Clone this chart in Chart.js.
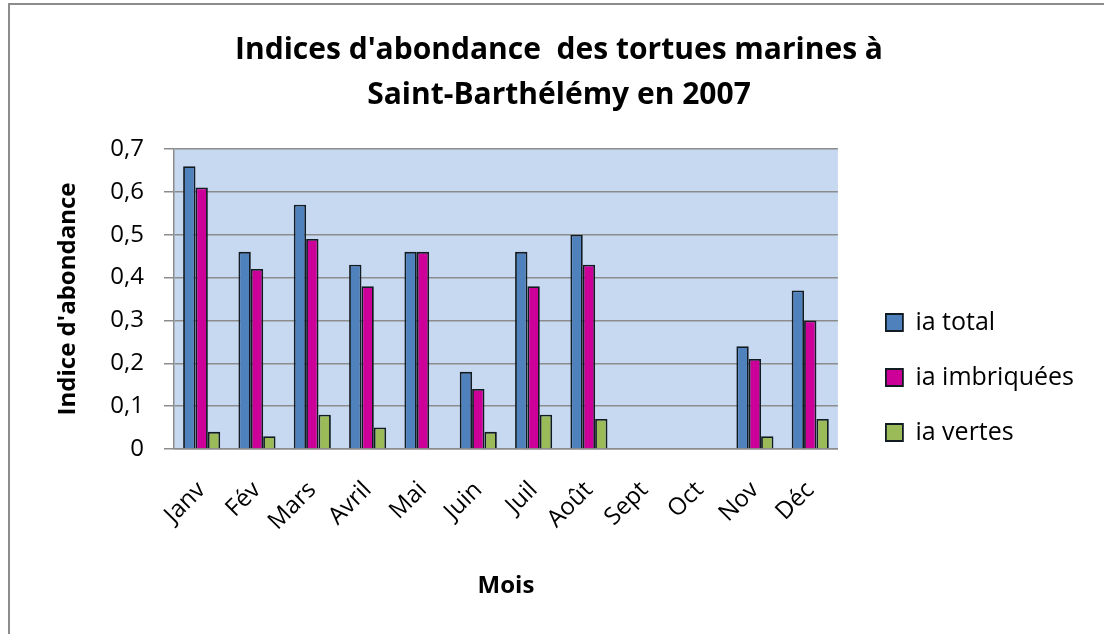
<!DOCTYPE html>
<html lang="fr">
<head>
<meta charset="utf-8">
<title>Indices d'abondance des tortues marines</title>
<script src="https://cdn.jsdelivr.net/npm/chart.js@4/dist/chart.umd.min.js"></script>
<style>
  html, body { margin: 0; padding: 0; background: #fff; overflow: hidden; }
  #frame {
    position: absolute; left: 8px; top: 3px; width: 1200px; height: 700px;
    border-left: 2px solid #8c8c8c; border-top: 2px solid #8c8c8c;
  }
  #wrap { position: absolute; left: 0; top: 0; width: 1104px; height: 634px; }
</style>
</head>
<body>
<div id="frame"></div>
<div id="wrap"><canvas id="chart" width="1104" height="634"></canvas></div>
<script>
// Data
const months = ['Janv', 'Fév', 'Mars', 'Avril', 'Mai', 'Juin', 'Juil', 'Août', 'Sept', 'Oct', 'Nov', 'Déc'];
const iaTotal = [0.66, 0.46, 0.57, 0.43, 0.46, 0.18, 0.46, 0.50, null, null, 0.24, 0.37];
const iaImbriquees = [0.61, 0.42, 0.49, 0.38, 0.46, 0.14, 0.38, 0.43, null, null, 0.21, 0.30];
const iaVertes = [0.04, 0.03, 0.08, 0.05, 0, 0.04, 0.08, 0.07, null, null, 0.03, 0.07];
const yTickLabels = ['0', '0,1', '0,2', '0,3', '0,4', '0,5', '0,6', '0,7'];

const FONT = '"Open Sans", Lato, sans-serif';
const gridGrey = '#8c8c8c';
const barBorder = '#121a22';

// light blue plot area like the Excel original
const plotBg = {
    id: 'plotBg',
    beforeDraw(chart) {
        const { ctx, chartArea: a } = chart;
        ctx.save();
        ctx.fillStyle = '#c6d9f1';
        ctx.fillRect(a.left, a.top, a.right - a.left, a.bottom - a.top);
        ctx.restore();

        // push the legend a bit to the right of the plot
        const lg = chart.legend;
        if (lg) {
            const w = lg.width;
            lg.left = a.right + 48 - lg.options.labels.padding;
            lg.right = lg.left + w;
        }
        // centre the title over the whole picture, not only the padded box
        const tb = chart.titleBlock;
        if (tb) {
            tb.left = 14;
            tb.right = chart.width;
            tb.width = tb.right - tb.left;
        }
    }
};

new Chart(document.getElementById('chart'), {
    type: 'bar',
    data: {
        labels: months,
        datasets: [
            { label: 'ia total', data: iaTotal, backgroundColor: '#4f81bd' },
            { label: 'ia imbriquées', data: iaImbriquees, backgroundColor: '#cc0099' },
            { label: 'ia vertes', data: iaVertes, backgroundColor: '#9bbb59' }
        ].map(d => Object.assign(d, {
            borderColor: barBorder,
            borderWidth: 1.8,
            borderSkipped: 'bottom',
            categoryPercentage: 0.67,
            barPercentage: 1.0
        }))
    },
    options: {
        responsive: false,
        animation: false,
        layout: { padding: { left: 12, right: 38, top: 0, bottom: 0 } },
        plugins: {
            title: {
                display: true,
                text: ["Indices d'abondance  des tortues marines à", 'Saint-Barthélémy en 2007'],
                color: '#000',
                font: { family: FONT, size: 30, weight: 'bold', lineHeight: 1.5 },
                padding: { top: 27.5, bottom: 31.5 }
            },
            legend: {
                position: 'right',
                align: 'start',
                title: { display: true, text: '', font: { size: 10, lineHeight: 1 }, padding: { top: 270, bottom: 0 } },
                labels: {
                    color: '#000',
                    font: { family: FONT, size: 25 },
                    boxWidth: 17,
                    boxHeight: 17,
                    padding: 30
                }
            },
            tooltip: { enabled: false }
        },
        scales: {
            x: {
                grid: { display: false, drawTicks: false },
                border: { display: true, color: gridGrey, width: 1.5 },
                ticks: {
                    color: '#000',
                    font: { family: FONT, size: 24 },
                    minRotation: 45,
                    maxRotation: 45,
                    padding: 27,
                    autoSkip: false
                },
                title: {
                    display: true,
                    text: 'Mois',
                    color: '#000',
                    font: { family: FONT, size: 24, weight: 'bold' },
                    padding: { top: 0, bottom: 33 }
                },
                afterFit(scale) { scale.height = 185; }
            },
            y: {
                min: 0,
                max: 0.7,
                ticks: {
                    stepSize: 0.1,
                    color: '#000',
                    font: { family: FONT, size: 24 },
                    padding: 20,
                    callback: (v, i) => yTickLabels[i]
                },
                grid: { color: gridGrey, lineWidth: 1.5, tickLength: 10 },
                border: { display: true, color: gridGrey, width: 1.5 },
                title: {
                    display: true,
                    text: "Indice d'abondance",
                    color: '#000',
                    font: { family: FONT, size: 24, weight: 'bold' },
                    padding: { top: 42, bottom: 0 }
                },
                afterFit(scale) { scale.width = 162; }
            }
        }
    },
    plugins: [plotBg]
});
</script>
</body>
</html>
